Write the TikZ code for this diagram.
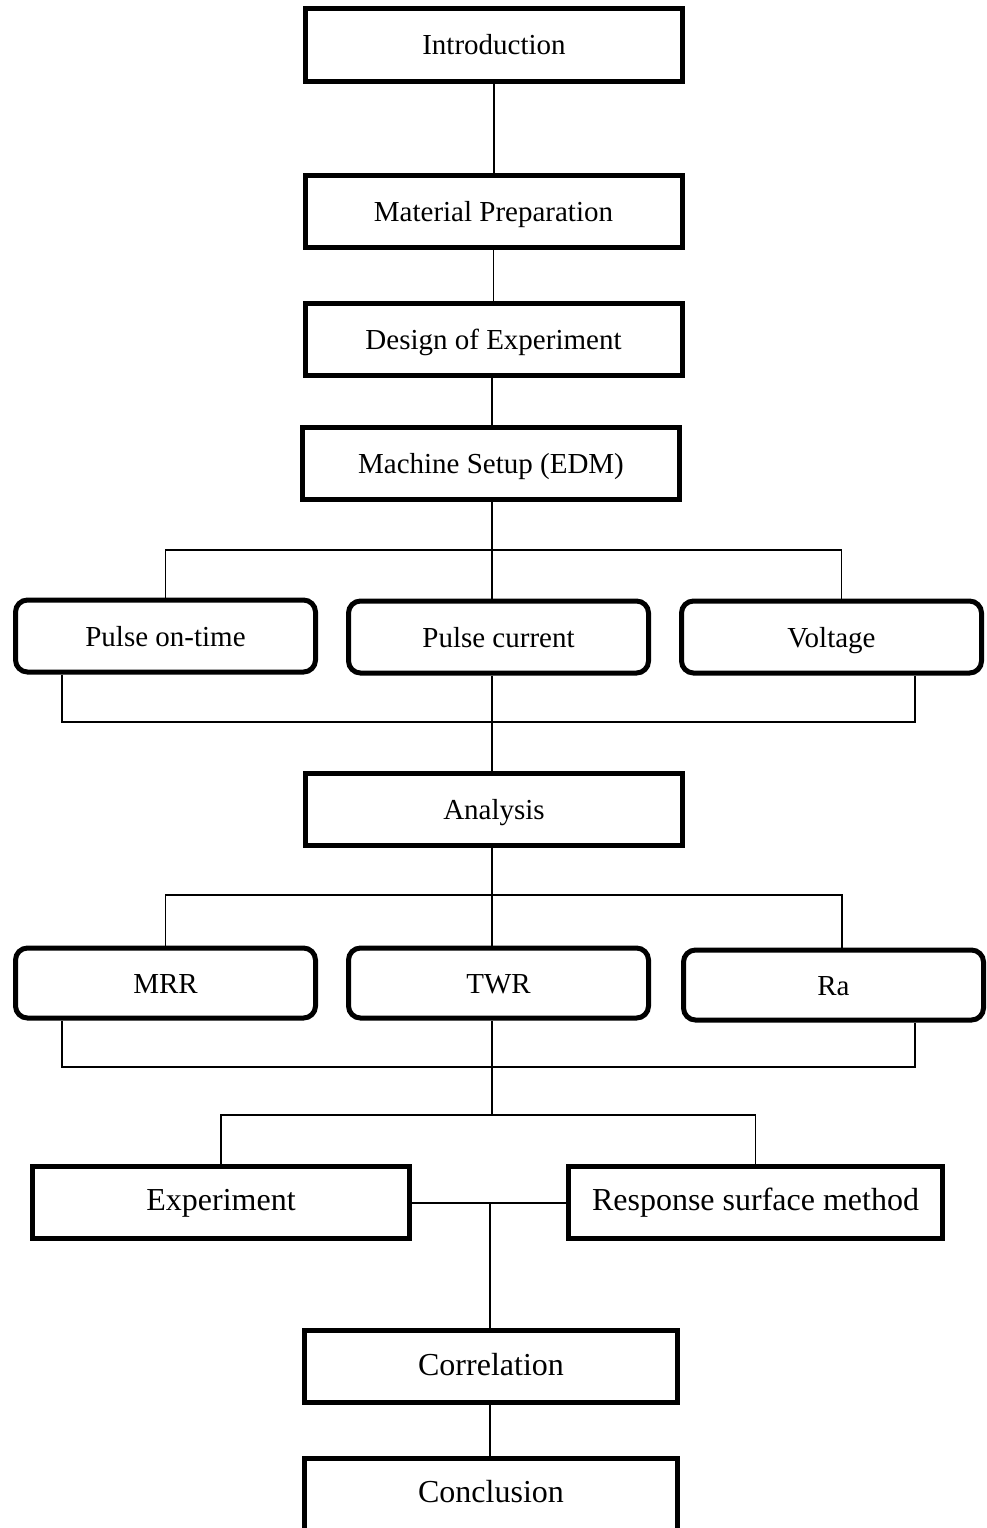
\documentclass[tikz,border=0pt]{standalone}
\usepackage{fontspec}
\setmainfont{Liberation Serif}
\usetikzlibrary{positioning, calc}

\begin{document}
\begin{tikzpicture}[
  x=1pt, y=-1pt,
  stage/.style={rectangle, draw=black, line width=5pt, minimum width=377pt, minimum height=72pt, inner sep=0pt, align=center, text height=25pt, text depth=5pt, font=\fontsize{29}{34}\selectfont},
  param/.style={stage, rounded corners=12pt, minimum width=300pt},
  result/.style={stage, text height=24pt, text depth=7pt, font=\fontsize{32}{38}\selectfont},
  link/.style={draw=black, line width=1.7pt}
]
  \useasboundingbox (0,0) rectangle (986,1528);

  \node[stage] (intro) at (494,45) {Introduction};
  \node[stage] (prep) at (493.5,211.5) {Material Preparation};
  \node[stage] (doe) at (493.5,339) {Design of Experiment};
  \node[stage] (setup) at (491,463) {Machine Setup (EDM)};

  \node[param] (ptime) at (165.5,636) {Pulse on-time};
  \node[param] (pcur) at (498.5,637) {Pulse current};
  \node[param] (volt) at (831.5,637) {Voltage};

  \node[stage] (analysis) at (494,809) {Analysis};

  \node[param, minimum height=70pt] (mrr) at (165.5,983) {MRR};
  \node[param, minimum height=70pt] (twr) at (498.5,983) {TWR};
  \node[param, minimum height=70pt] (ra) at (833.5,985) {Ra};

  \node[result] (exper) at (221,1202) {Experiment};
  \node[result, minimum width=374pt] (rsm) at (755.5,1202) {Response surface method};
  \node[result, minimum width=373pt] (corr) at (491,1366.5) {Correlation};
  \node[result, minimum width=373pt] (concl) at (491,1494) {Conclusion};

  % junctions
  \coordinate (j1) at (492,550);
  \coordinate (j2) at (492,722);
  \coordinate (j3) at (492,895);
  \coordinate (j4) at (492,1067);
  \coordinate (j5) at (492,1115);
  \coordinate (j6) at (490,1203);

  \path[link] (intro.south) edge (intro.south |- prep.north)
              (prep.south) edge (prep.south |- doe.north)
              (doe.south -| j1) edge (setup.north -| j1);
  \draw[link] (setup.south -| j1) -- (pcur.north -| j1);
  \draw[link] (ptime.north) |- (j1) -| ([xshift=10pt]volt.north);
  \draw[link] ([xshift=-103.5pt]ptime.south) |- (j2) -| ([xshift=83.5pt]volt.south);
  \draw[link] (pcur.south -| j2) -- (analysis.north -| j2);

  \draw[link] (analysis.south -| j3) -- (twr.north -| j3);
  \draw[link] (mrr.north) |- (j3) -| ([xshift=8.5pt]ra.north);
  \draw[link] ([xshift=-103.5pt]mrr.south) |- (j4) -| ([xshift=81.5pt]ra.south);
  \draw[link] (twr.south -| j4) -- (j5);
  \draw[link] (exper.north) |- (j5) -| (rsm.north);

  \draw[link] (exper.east |- j6) -- (rsm.west |- j6);
  \draw[link] (j6) -- (corr.north -| j6);
  \draw[link] (corr.south -| j6) -- (concl.north -| j6);
\end{tikzpicture}
\end{document}
